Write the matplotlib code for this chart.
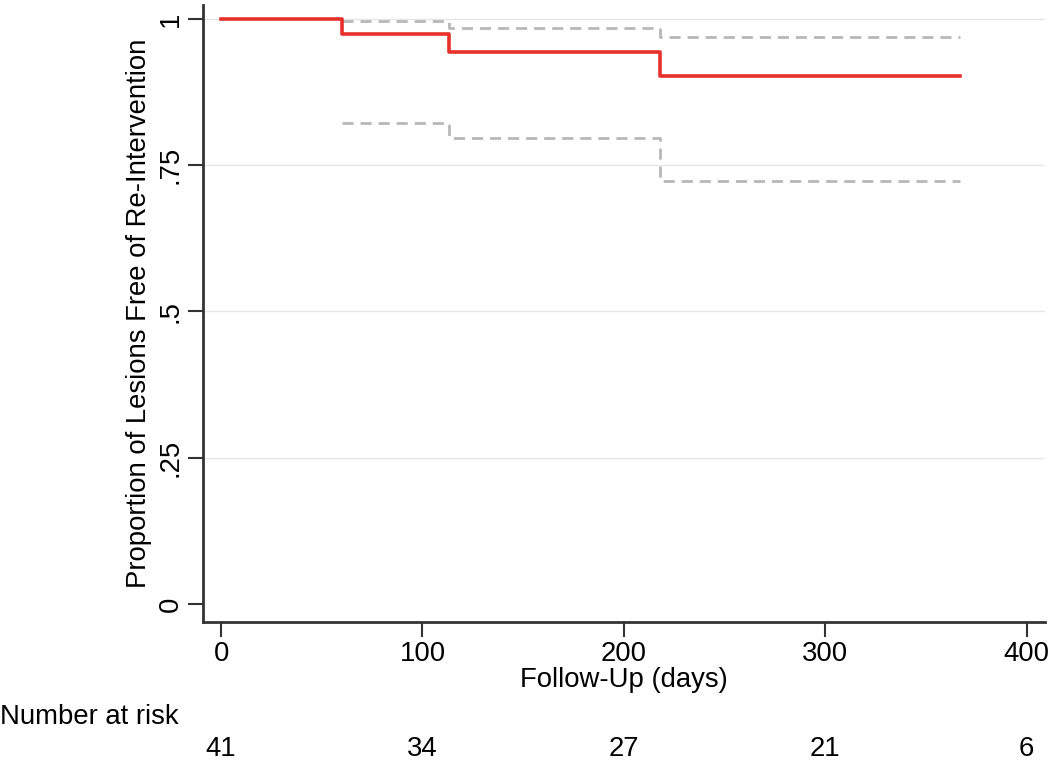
import matplotlib
matplotlib.use("Agg")
import matplotlib.pyplot as plt

# Kaplan-Meier estimate (step function, post)
km_time = [0, 60, 113, 218, 367]
km_surv = [1.0, 0.974, 0.944, 0.903, 0.903]

# Confidence interval bounds
ci_time = [60, 113, 218, 367]
ci_upper = [0.997, 0.985, 0.970, 0.970]
ci_lower = [0.823, 0.796, 0.723, 0.723]

x_ticks = [0, 100, 200, 300, 400]
y_ticks = [0, 0.25, 0.5, 0.75, 1]
y_ticklabels = ["0", ".25", ".5", ".75", "1"]
risk_times = [0, 100, 200, 300, 400]
risk_counts = [41, 34, 27, 21, 6]

plt.rcParams['font.family'] = ['Liberation Sans', 'DejaVu Sans']

fig = plt.figure(figsize=(10.5, 7.62), dpi=100)
ax = fig.add_axes([0.1933, 0.1837, 0.8017, 0.8097])

fs = 19.8
for y in y_ticks[1:]:
    ax.axhline(y, color="#e6e6e6", lw=1.0, zorder=0)

ax.step(ci_time, ci_upper, where="post", color="#b8b8b8", lw=2, ls=(0, (4, 2.5)), zorder=2)
ax.step(ci_time, ci_lower, where="post", color="#b8b8b8", lw=2, ls=(0, (4, 2.5)), zorder=2)
ax.step(km_time, km_surv, where="post", color="#e8302a", lw=2.6, zorder=3)

ax.set_xlim(-9, 409)
ax.set_ylim(-0.031, 1.024)
ax.set_xticks(x_ticks)
ax.set_yticks(y_ticks)
ax.set_yticklabels(y_ticklabels, rotation=90, va="center")
ax.tick_params(axis="both", labelsize=fs, length=11, width=1.5, color="#333333")
ax.tick_params(axis="x", pad=3)
ax.tick_params(axis="y", pad=3)

for s in ["top", "right"]:
    ax.spines[s].set_visible(False)
for s in ["left", "bottom"]:
    ax.spines[s].set_color("#333333")
    ax.spines[s].set_linewidth(2)

ax.set_xlabel("Follow-Up (days)", fontsize=fs, labelpad=0)
ax.set_ylabel("Proportion of Lesions Free of Re-Intervention", fontsize=fs, labelpad=4)

fig.text(0.0, 1 - 717 / 762, "Number at risk", fontsize=fs, ha="left", va="center")
for t, n in zip(risk_times, risk_counts):
    xf, _ = fig.transFigure.inverted().transform(ax.transData.transform((t, 0)))
    fig.text(xf, 1 - 749 / 762, str(n), fontsize=fs, ha="center", va="center")

fig.savefig("out.png", dpi=100)
